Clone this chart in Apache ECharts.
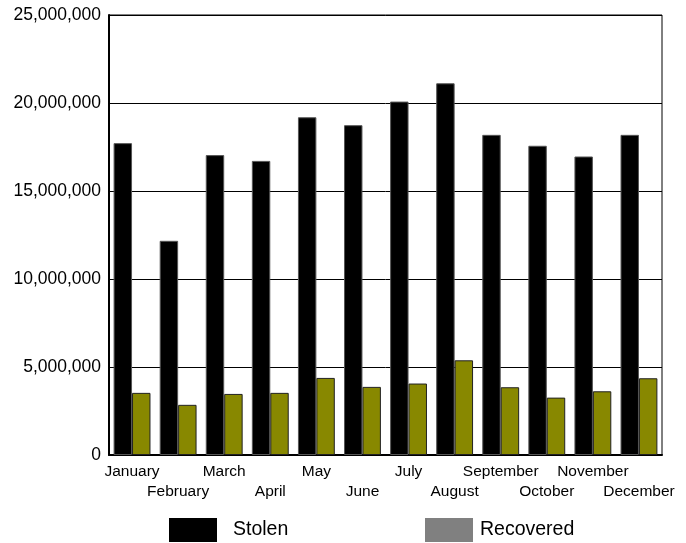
<!DOCTYPE html>
<html>
<head>
<meta charset="utf-8">
<script src="https://cdn.jsdelivr.net/npm/echarts@6/dist/echarts.min.js"></script>
<style>html,body{margin:0;padding:0;background:#fff}#c{width:686px;height:543px}</style>
</head>
<body>
<div id="c"></div>
<script>
var months = ['January','February','March','April','May','June','July','August','September','October','November','December'];
var stolen = [17720000,12170000,17040000,16710000,19190000,18740000,20080000,21120000,18190000,17570000,16960000,18190000];
var recovered = [3530000,2850000,3470000,3530000,4380000,3870000,4060000,5380000,3850000,3260000,3620000,4360000];
var yTicks = [0,5000000,10000000,15000000,20000000,25000000];

var chart = echarts.init(document.getElementById('c'));
var font = 'Liberation Sans, Arial, sans-serif';
chart.setOption({
  animation: false,
  textStyle: {fontFamily: font},
  grid: {left: 109, right: 24, top: 15, bottom: 88, show: true, borderColor: '#000', borderWidth: 1},
  legend: [
    {left: 169, top: 518, padding: 0, itemWidth: 48, itemHeight: 24, icon: 'rect', data: [{name: 'Stolen', itemStyle: {color: '#000', borderWidth: 0}}],
      textStyle: {fontSize: 19.5, color: '#000', fontFamily: font, padding: [0,0,3,11]}},
    {left: 425, top: 518, padding: 0, itemWidth: 48, itemHeight: 24, icon: 'rect', data: [{name: 'Recovered', itemStyle: {color: '#808080', borderWidth: 0}}],
      textStyle: {fontSize: 19.5, color: '#000', fontFamily: font, padding: [0,0,3,2]}}
  ],
  xAxis: {
    type: 'category', data: months,
    axisLine: {lineStyle: {color: '#000', width: 2}},
    axisTick: {show: false},
    axisLabel: {interval: 0, color: '#000', fontSize: 15.5, fontFamily: font, margin: 7, lineHeight: 20,
      formatter: function (v, i) { return i % 2 ? '\n' + v : v; }}
  },
  yAxis: {
    type: 'value', min: yTicks[0], max: yTicks[yTicks.length - 1], interval: 5000000,
    axisLine: {show: true, lineStyle: {color: '#000', width: 2}},
    axisTick: {show: false},
    splitLine: {lineStyle: {color: '#000', width: 1}},
    axisLabel: {color: '#000', fontSize: 17.5, fontFamily: font, margin: 8,
      formatter: function (v) { return v.toLocaleString('en-US'); }}
  },
  series: [
    {name: 'Stolen', type: 'bar', data: stolen, barGap: '0%', barCategoryGap: '20%',
      itemStyle: {color: '#000', borderColor: '#555', borderWidth: 1}},
    {name: 'Recovered', type: 'bar', data: recovered,
      itemStyle: {color: '#888800', borderColor: '#222', borderWidth: 1}}
  ]
});
</script>
</body>
</html>
